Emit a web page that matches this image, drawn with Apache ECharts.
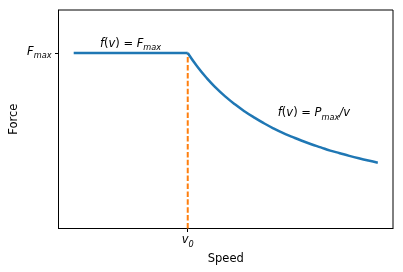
<!DOCTYPE html>
<html><head><meta charset="utf-8">
<script src="https://cdn.jsdelivr.net/npm/echarts@6/dist/echarts.min.js"></script>
<style>html,body{margin:0;padding:0;background:#fff}#c{width:403px;height:272px}</style>
</head><body><div id="c"></div>
<script>
// Data (units: v0 = 3, Fmax = 1)
const flatSpeed = [0, 3];
const flatForce = [1, 1];
const curveSpeed = [3, 3.25, 3.5, 3.75, 4, 4.25, 4.5, 4.75, 5, 5.25, 5.5, 5.75, 6, 6.25, 6.5, 6.75, 7, 7.25, 7.5, 7.75, 8];
const curveForce = [1.0, 0.923, 0.857, 0.8, 0.75, 0.706, 0.667, 0.632, 0.6, 0.571, 0.545, 0.522, 0.5, 0.48, 0.462, 0.444, 0.429, 0.414, 0.4, 0.387, 0.375];
const v0Line = [[3, 0], [3, 1]];
const xTicks = [3];
const yTicks = [1];
const annotations = [
  {pos: [0.69, 1.045], text: '{i|f}{n|(}{i|v}{n|) = }{i|F}{s|max}'},
  {pos: [5.37, 0.65], text: '{i|f}{n|(}{i|v}{n|) = }{i|P}{s|max}{i|/v}'}
];

const FONT = 'DejaVu Sans';
const FS = 11.5;
const rich = {
  n: {fontFamily: FONT, fontSize: FS, color: '#000', lineHeight: 14, verticalAlign: 'top'},
  i: {fontFamily: FONT, fontSize: FS, fontStyle: 'italic', color: '#000', lineHeight: 14, verticalAlign: 'top'},
  s: {fontFamily: FONT, fontSize: 8.2, fontStyle: 'italic', color: '#000', lineHeight: 9, padding: [6, 0, 0, 0], verticalAlign: 'top'}
};

const chart = echarts.init(document.getElementById('c'), null, {renderer: 'canvas'});
const option = {
  animation: false,
  grid: {left: 58.5, right: 10, top: 10, bottom: 43.5, containLabel: false, outerBoundsMode: 'none',
    show: true, borderColor: '#000', borderWidth: 1, backgroundColor: 'transparent'},
  xAxis: {
    type: 'value', min: -0.4, max: 8.4,
    name: 'Speed', nameLocation: 'middle', nameGap: 25, nameMoveOverlap: false,
    nameTextStyle: {fontFamily: FONT, fontSize: FS, color: '#000'},
    axisLine: {show: true, onZero: false, lineStyle: {color: '#000', width: 1}},
    axisTick: {show: true, length: 3.5, customValues: xTicks, lineStyle: {color: '#000'}},
    axisLabel: {show: true, margin: 6, customValues: xTicks,
      formatter: () => '{i|v}{s|0}', rich: rich},
    splitLine: {show: false}
  },
  yAxis: {
    type: 'value', min: 0, max: 1.245,
    name: 'Force', nameLocation: 'middle', nameGap: 38, nameMoveOverlap: false,
    nameTextStyle: {fontFamily: FONT, fontSize: FS, color: '#000'},
    axisLine: {show: true, onZero: false, lineStyle: {color: '#000', width: 1}},
    axisTick: {show: true, length: 3.5, customValues: yTicks, lineStyle: {color: '#000'}},
    axisLabel: {show: true, margin: 7, customValues: yTicks,
      formatter: () => '{i|F}{s|max}', rich: rich},
    splitLine: {show: false}
  },
  series: [
    {type: 'line', data: flatSpeed.map((v, k) => [v, flatForce[k]]), symbol: 'none',
      lineStyle: {color: '#1f77b4', width: 2.5}, z: 3},
    {type: 'line', data: curveSpeed.map((v, k) => [v, curveForce[k]]), symbol: 'none',
      smooth: 0.5,
      lineStyle: {color: '#1f77b4', width: 2.5, join: 'round'}, z: 3},
    {type: 'line', data: v0Line, symbol: 'none',
      lineStyle: {color: '#ff7f0e', width: 2, type: [5.5, 2.4]}, z: 2}
  ]
};
chart.setOption(option);
const graphics = annotations.map(a => {
  const p = chart.convertToPixel({gridIndex: 0}, a.pos);
  return {type: 'text', x: p[0], y: p[1], style: {text: a.text, rich: rich, align: 'left', verticalAlign: 'middle'}};
});
chart.setOption({graphic: graphics});
</script></body></html>
